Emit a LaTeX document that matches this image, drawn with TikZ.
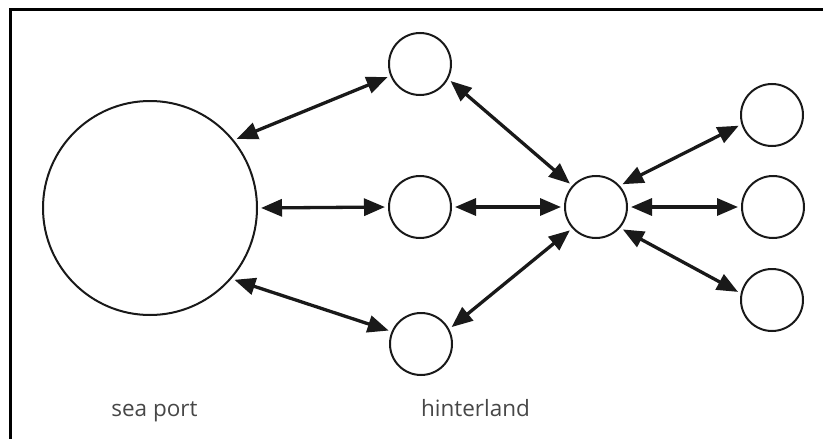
\documentclass[tikz,border=0pt]{standalone}
\usepackage{fontspec}
\setmainfont{Open Sans}
\usetikzlibrary{arrows.meta}

\begin{document}
\begin{tikzpicture}[x=1pt,y=-1pt,
  place/.style={circle,draw=black!90,line width=2pt,inner sep=0pt,minimum size=62pt},
  link/.style={{Triangle[length=21pt,width=17pt]}-{Triangle[length=21pt,width=17pt]},
    line width=3.3pt,draw=black!90,fill=black!90,shorten <=3pt,shorten >=3pt},
  caption/.style={anchor=base,text=black!72,font=\fontsize{22.5}{26}\selectfont}]
  \useasboundingbox (0,0) rectangle (823,439);
  % frame
  \draw[line width=3pt] (10.5,439) -- (10.5,9.5) -- (823,9.5);

  % sea port and the hinterland places
  \node[place,minimum size=214pt] (port) at (150,208) {};
  \foreach \nd/\x/\y in {m1/420/64, m2/420/207, m3/421/344,
    hub/596/207,
    r1/772/115, r2/773/207, r3/772/300}
    \node[place] (\nd) at (\x,\y) {};

  % arrows
  \draw[link] (port.39) -- (m1.202);
  \draw[link] (port.0) -- (m2.180);
  \draw[link] (port.-41) -- (m3.157);
  \draw[link] (m1.-28) -- (hub.138);
  \draw[link] (m2.0) -- (hub.180);
  \draw[link] (m3.28) -- (hub.222);
  \draw[link] (hub.42) -- (r1.197);
  \draw[link] (hub.0) -- (r2.180);
  \draw[link] (hub.-41) -- (r3.168);

  % labels
  \node[caption] (seaport) at (154.5,416) {sea port};
  \node[caption] (hinter) at (475.5,416) {hinterland};
\end{tikzpicture}
\end{document}
